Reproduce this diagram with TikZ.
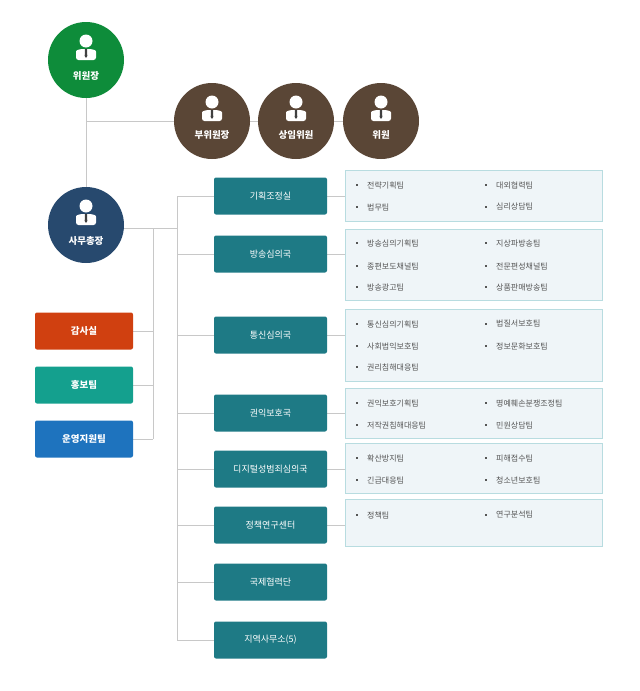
\documentclass[tikz,border=0pt]{standalone}
\usepackage{fontspec}
\setmainfont{Noto Sans CJK KR}
\usetikzlibrary{backgrounds}
\begin{document}
\begin{tikzpicture}[x=1pt,y=-1pt,
 circ/.style={circle,minimum size=76pt,inner sep=0pt,text=white,font=\bfseries\fontsize{9}{10}\selectfont},
 lbl/.style={text=white,font=\bfseries\fontsize{9.5}{10}\selectfont},
 side/.style={rectangle,rounded corners=2pt,minimum width=98pt,minimum height=37pt,text=white,font=\bfseries\fontsize{9.5}{10}\selectfont},
 mid/.style={rectangle,rounded corners=2pt,fill=midc,minimum width=113pt,minimum height=37pt,text=white,font=\fontsize{9}{10}\selectfont},
 panel/.style={rectangle,fill=panf,draw=panb,line width=0.8pt,inner sep=0pt},
 it/.style={anchor=west,text=txtc,font=\fontsize{8}{9}\selectfont,inner sep=0pt},
 ln/.style={draw=linec,line width=0.8pt}]
\definecolor{gr}{HTML}{0E8C3A}
\definecolor{br}{HTML}{5A4636}
\definecolor{nv}{HTML}{27496E}
\definecolor{midc}{HTML}{1E7A85}
\definecolor{panf}{HTML}{EFF5F8}
\definecolor{panb}{HTML}{B8DCE0}
\definecolor{txtc}{HTML}{555555}
\definecolor{linec}{HTML}{C8C8C8}
\definecolor{or}{HTML}{D04010}
\definecolor{tl}{HTML}{14A08E}
\definecolor{bl}{HTML}{1E73BE}
\useasboundingbox (0,0) rectangle (640,691);
\newcommand{\person}[2]{%
 \fill[white] (#1,#2-15) circle (6.5);
 \fill[white,rounded corners=2.5pt] (#1-10,#2+4) -- (#1-10,#2-2) .. controls (#1-10,#2-6) and (#1-6,#2-7) .. (#1,#2-7) .. controls (#1+6,#2-7) and (#1+10,#2-6) .. (#1+10,#2-2) -- (#1+10,#2+4) -- cycle;
 \fill[black!75] (#1-1,#2-7) -- (#1+1,#2-7) -- (#1+1.3,#2) -- (#1,#2+2) -- (#1-1.3,#2) -- cycle;}
\coordinate (j1) at (86,121);
\coordinate (s1) at (153,228); \coordinate (s2) at (177,228);
\coordinate (t1) at (177,196); \coordinate (t2) at (177,640);
\coordinate (a1) at (153,331); \coordinate (a2) at (153,385); \coordinate (a3) at (153,439);
\node[circ,fill=gr] (c0) at (86,60) {};
\node[circ,fill=nv] (c4) at (86,225) {};
\node[circ,fill=br] (c1) at (212,121) {};
\node[circ,fill=br] (c2) at (296,121) {};
\node[circ,fill=br] (c3) at (381,121) {};
\person{86}{56}\person{86}{221}\person{212}{117}\person{296}{117}\person{381}{117}
\node[lbl] (l0) at (86,76) {위원장};
\node[lbl] (l4) at (86,241) {사무총장};
\node[lbl] (l1) at (212,135) {부위원장};
\node[lbl] (l2) at (296,135) {상임위원};
\node[lbl] (l3) at (381,135) {위원};
\node[side,fill=or] (b1) at (84,331) {감사실};
\node[side,fill=tl] (b2) at (84,385) {홍보팀};
\node[side,fill=bl] (b3) at (84,439) {운영지원팀};
\node[panel,minimum width=257pt,minimum height=51pt] (p1) at (473.5,195.5) {};
\node[panel,minimum width=257pt,minimum height=71pt] (p2) at (473.5,264.5) {};
\node[panel,minimum width=257pt,minimum height=72pt] (p3) at (473.5,345) {};
\node[panel,minimum width=257pt,minimum height=50pt] (p4) at (473.5,413) {};
\node[panel,minimum width=257pt,minimum height=50pt] (p5) at (473.5,468) {};
\node[panel,minimum width=257pt,minimum height=47pt] (p6) at (473.5,522.5) {};
\foreach \n/\y/\t in {m1/196/기획조정실,m2/254/방송심의국,m3/335/통신심의국,m4/413/권익보호국,m5/469/디지털성범죄심의국,m6/525/정책연구센터,m7/582/국제협력단,m8/640/지역사무소(5)}{
 \node[mid] (\n) at (270.5,\y) {\t};}
\begin{scope}[on background layer]
\path[ln] (c0) -- (c4);
\path[ln] (j1) -- (c1);
\path[ln] (c1) -- (c2); \path[ln] (c2) -- (c3);
\path[ln] (c4.east |- s2) -- (s2);
\path[ln] (s1) -- (a3);
\path[ln] (t1) -- (t2);
\path[ln] (b1) -- (a1); \path[ln] (b2) -- (a2); \path[ln] (b3) -- (a3);
\foreach \i in {1,...,8}{\path[ln] (m\i.west -| t1) -- (m\i.west);}
\foreach \i in {1,...,6}{\path[ln] (m\i.east) -- (m\i.east -| p\i.west);}
\end{scope}
\foreach \x/\y/\t in {357/185/전략기획팀,486/185/대외협력팀,357/207/법무팀,486/207/심리상담팀,
 357/243/방송심의기획팀,486/243/지상파방송팀,357/266/종편보도채널팀,486/266/전문편성채널팀,357/287/방송광고팀,486/287/상품판매방송팀,
 357/324/통신심의기획팀,486/324/법질서보호팀,357/346/사회법익보호팀,486/346/정보문화보호팀,357/367/권리침해대응팀,
 357/403/권익보호기획팀,486/403/명예훼손분쟁조정팀,357/425/저작권침해대응팀,486/425/민원상담팀,
 357/458/확산방지팀,486/458/피해접수팀,357/480/긴급대응팀,486/480/청소년보호팀,
 357/515/정책팀,486/515/연구분석팀}{
 \fill[txtc] (\x-1,\y-1) rectangle (\x+1,\y+1);
 \node[it] at (\x+10,\y) {\t};}
\end{tikzpicture}
\end{document}
